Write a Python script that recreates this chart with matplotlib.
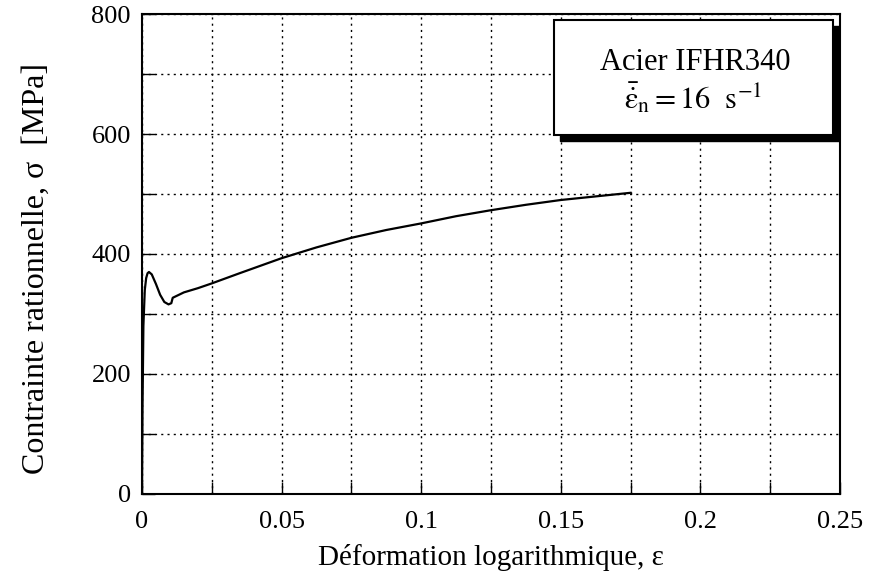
import numpy as np
import matplotlib
matplotlib.use('Agg')
import matplotlib.pyplot as plt
from matplotlib.patches import Rectangle

plt.rcParams['font.family'] = ['Liberation Serif', 'DejaVu Serif']
plt.rcParams['mathtext.fontset'] = 'stix'

# courbe contrainte / deformation
strain = [0.0, 0.0002, 0.0005, 0.001, 0.0015, 0.002, 0.0025, 0.0035, 0.005, 0.0065,
          0.008, 0.0095, 0.0105, 0.011, 0.015, 0.02, 0.025, 0.035, 0.05, 0.0625,
          0.075, 0.0875, 0.1, 0.1125, 0.125, 0.1375, 0.15, 0.1625, 0.175]
stress = [0, 150, 280, 340, 360, 368, 370, 366, 350, 332,
          320, 316, 318, 327, 336, 343, 351, 368, 393, 411,
          427, 440, 451, 463, 473, 482, 490, 496, 502]

xticks = [0, 0.05, 0.1, 0.15, 0.2, 0.25]
xticklabels = ['0', '0.05', '0.1', '0.15', '0.2', '0.25']
yticks = [0, 200, 400, 600, 800]

fig = plt.figure(figsize=(8.69, 5.72), dpi=100)
ax = fig.add_axes([0.1634, 0.1364, 0.8032, 0.8391])

ax.plot(strain, stress, color='black', lw=1.6)

ax.set_xlim(0, 0.25)
ax.set_ylim(0, 800)
ax.set_xticks(xticks)
ax.set_xticklabels(xticklabels)
ax.set_yticks(yticks)
ax.set_xticks(np.arange(0, 0.2501, 0.025), minor=True)
ax.set_yticks(np.arange(0, 801, 100), minor=True)
ax.grid(which='both', color='black', linestyle=(0, (1.5, 3)), lw=1.0)
ax.tick_params(which='both', direction='in', labelsize=19, length=9, width=1.0)
ax.tick_params(axis='x', pad=12)
ax.tick_params(axis='y', pad=8)
for s in ax.spines.values():
    s.set_linewidth(1.5)

ax.set_xlabel('Déformation logarithmique, ε', fontsize=21, labelpad=8)
ax.set_ylabel('Contrainte rationnelle, σ  [MPa]', fontsize=23)
ax.yaxis.set_label_coords(-0.13, 0.47)

# cadre de la legende avec ombre
ax.add_patch(Rectangle((0.599, 0.736), 0.40, 0.24, transform=ax.transAxes,
                       facecolor='black', edgecolor='black', zorder=5, clip_on=False))
ax.add_patch(Rectangle((0.590, 0.748), 0.40, 0.24, transform=ax.transAxes,
                       facecolor='white', edgecolor='black', lw=1.5, zorder=6, clip_on=False))
ax.text(0.792, 0.90, 'Acier IFHR340', transform=ax.transAxes, fontsize=22,
        ha='center', va='center', zorder=7)
ax.text(0.79, 0.825, r'$\bar{\dot{\mathrm{ε}}}_{\mathrm{n}} = 16\ \ \mathrm{s}^{-1}$',
        transform=ax.transAxes, fontsize=22, ha='center', va='center', zorder=7)

fig.savefig('out.png', dpi=100)
